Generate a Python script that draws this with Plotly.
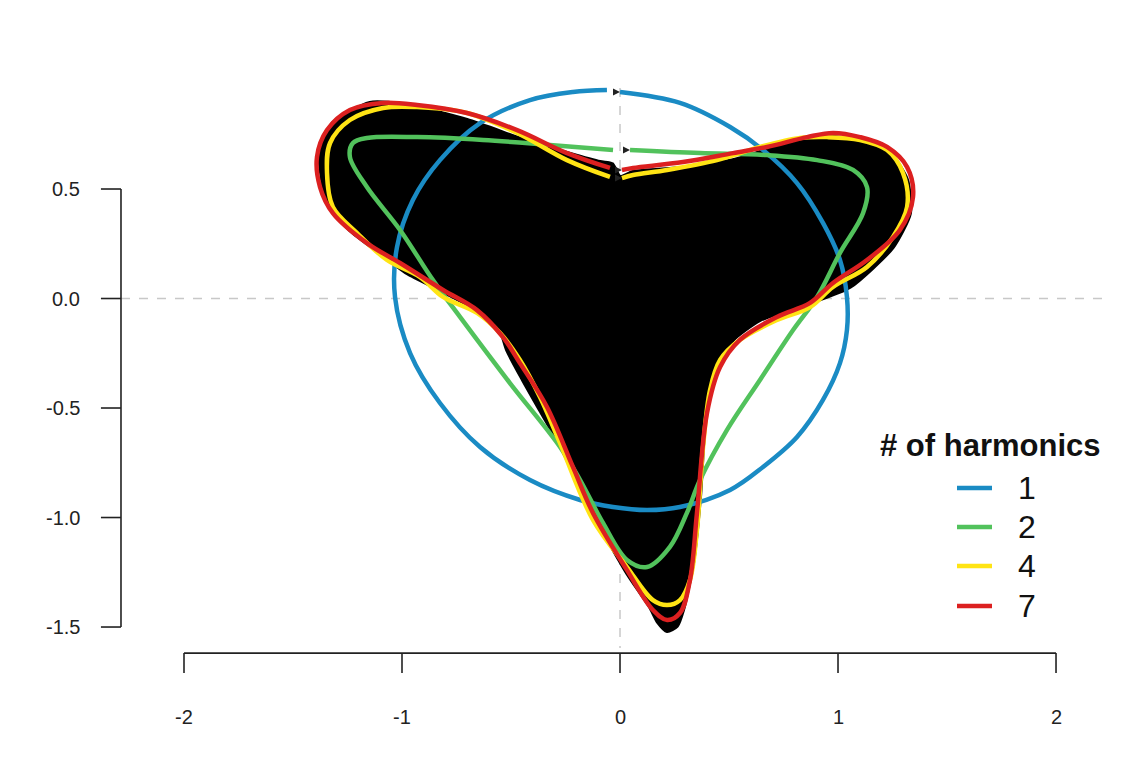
import plotly.graph_objects as go

# ---------------- data (data units) ----------------
x_ticks = [-2, -1, 0, 1, 2]
x_tick_labels = ["-2", "-1", "0", "1", "2"]
y_ticks = [0.5, 0.0, -0.5, -1.0, -1.5]
y_tick_labels = ["0.5", "0.0", "-0.5", "-1.0", "-1.5"]

# original outline (black)
outline_x = [0.0, -0.037, -0.092, -0.399, -0.702, -0.977, -1.147, -1.317, -1.376, -1.362,
             -1.330, -1.239, -1.101, -0.977, -0.826, -0.656, -0.550, -0.518, -0.445, -0.367,
             -0.275, -0.124, 0.032, 0.138, 0.174, 0.216, 0.261, 0.289, 0.335, 0.367,
             0.399, 0.445, 0.518, 0.642, 0.872, 1.055, 1.252, 1.330, 1.317, 1.252,
             1.133, 0.977, 0.858, 0.674, 0.518, 0.289, 0.060, 0.0]
outline_y = [0.555, 0.614, 0.623, 0.710, 0.815, 0.884, 0.893, 0.801, 0.646, 0.518,
             0.418, 0.313, 0.208, 0.116, 0.039, -0.052, -0.144, -0.235, -0.372, -0.509,
             -0.669, -0.979, -1.253, -1.409, -1.477, -1.518, -1.495, -1.422, -1.208, -0.906,
             -0.450, -0.313, -0.189, -0.098, -0.020, 0.053, 0.235, 0.390, 0.541, 0.646,
             0.710, 0.738, 0.724, 0.678, 0.632, 0.596, 0.578, 0.555]

# 1 harmonic
h1_x = [0.0, 0.275, 0.505, 0.656, 0.812, 0.931, 1.009, 1.041, 1.041, 1.009,
        0.931, 0.812, 0.656, 0.505, 0.275, 0.124, -0.032, -0.183, -0.413, -0.642,
        -0.826, -0.963, -1.032, -1.023, -0.950, -0.826, -0.642, -0.413, -0.216, -0.060]
h1_y = [0.943, 0.893, 0.783, 0.678, 0.527, 0.345, 0.176, 0.007, -0.144, -0.295,
        -0.463, -0.632, -0.769, -0.874, -0.952, -0.966, -0.952, -0.920, -0.829, -0.678,
        -0.477, -0.249, 0.007, 0.235, 0.450, 0.632, 0.801, 0.906, 0.943, 0.952]

# 2 harmonics
h2_x = [0.046, 0.367, 0.674, 0.904, 1.069, 1.133, 1.115, 1.009, 0.904, 0.794,
        0.642, 0.491, 0.367, 0.307, 0.229, 0.124, 0.032, -0.078, -0.183, -0.275,
        -0.505, -0.734, -0.858, -1.009, -1.161, -1.239, -1.225, -1.161, -0.931, -0.628,
        -0.321, -0.032]
h2_y = [0.678, 0.664, 0.655, 0.632, 0.587, 0.509, 0.390, 0.208, 0.007, -0.144,
        -0.372, -0.600, -0.829, -0.979, -1.134, -1.226, -1.194, -1.025, -0.829, -0.678,
        -0.386, -0.084, 0.084, 0.313, 0.509, 0.646, 0.710, 0.733, 0.737, 0.724,
        0.701, 0.678]

# 4 harmonics
h4_x = [0.009, 0.060, 0.216, 0.445, 0.642, 0.826, 0.950, 1.101, 1.225, 1.298,
        1.317, 1.252, 1.133, 0.977, 0.872, 0.720, 0.550, 0.459, 0.413, 0.381,
        0.353, 0.321, 0.275, 0.216, 0.151, 0.032, -0.124, -0.275, -0.367, -0.459,
        -0.550, -0.656, -0.812, -0.917, -1.069, -1.206, -1.317, -1.344, -1.330, -1.239,
        -1.087, -0.931, -0.702, -0.472, -0.243, -0.046]
h4_y = [0.550, 0.564, 0.587, 0.632, 0.692, 0.733, 0.737, 0.724, 0.678, 0.573,
        0.418, 0.281, 0.144, 0.053, -0.039, -0.098, -0.189, -0.281, -0.418, -0.678,
        -1.057, -1.285, -1.377, -1.400, -1.377, -1.226, -1.011, -0.660, -0.450, -0.281,
        -0.158, -0.066, 0.007, 0.098, 0.176, 0.299, 0.418, 0.573, 0.710, 0.815,
        0.870, 0.874, 0.847, 0.756, 0.632, 0.555]

# 7 harmonics
h7_x = [0.009, 0.060, 0.289, 0.518, 0.674, 0.858, 0.977, 1.101, 1.225, 1.317,
        1.344, 1.284, 1.133, 0.977, 0.872, 0.720, 0.550, 0.459, 0.399, 0.353,
        0.321, 0.275, 0.216, 0.151, 0.032, -0.124, -0.216, -0.335, -0.459, -0.537,
        -0.656, -0.812, -1.009, -1.161, -1.317, -1.376, -1.390, -1.344, -1.239, -1.087,
        -0.931, -0.702, -0.472, -0.243, -0.046]
h7_y = [0.587, 0.596, 0.623, 0.664, 0.692, 0.737, 0.756, 0.737, 0.692, 0.600,
        0.463, 0.313, 0.176, 0.071, -0.020, -0.084, -0.189, -0.313, -0.523, -0.979,
        -1.285, -1.436, -1.468, -1.422, -1.240, -0.979, -0.769, -0.495, -0.295, -0.176,
        -0.053, 0.039, 0.162, 0.253, 0.390, 0.509, 0.646, 0.769, 0.861, 0.893,
        0.884, 0.847, 0.769, 0.664, 0.596]

harmonic_names = ["1", "2", "4", "7"]
harmonic_colors = ["#1a8bc4", "#52c25c", "#ffe414", "#dc2020"]
harmonic_x = [h1_x, h2_x, h4_x, h7_x]
harmonic_y = [h1_y, h2_y, h4_y, h7_y]

# ---------------- figure ----------------
W, H = 1143, 765
X_RANGE = [-2.844, 2.399]
Y_RANGE = [-2.130, 1.363]

fig = go.Figure()

# original outline, filled black
fig.add_trace(go.Scatter(x=outline_x, y=outline_y, mode="lines", fill="toself",
                         fillcolor="black",
                         line=dict(color="black", width=4, shape="spline", smoothing=0.6),
                         hoverinfo="skip", showlegend=False))

for name, col, xs, ys in zip(harmonic_names, harmonic_colors, harmonic_x, harmonic_y):
    fig.add_trace(go.Scatter(x=xs, y=ys, mode="lines", name=name,
                             line=dict(color=col, width=4.5, shape="spline", smoothing=1.0),
                             showlegend=False))
    # start-point arrow
    fig.add_trace(go.Scatter(x=[xs[0]], y=[ys[0]], mode="markers",
                             marker=dict(symbol="arrow-right", size=7, color="#222222"),
                             showlegend=False, hoverinfo="skip"))

shapes = []
grey = "#c8c8c8"
# dashed reference lines
shapes.append(dict(type="line", xref="x", yref="y", x0=-2.289, x1=2.225, y0=0, y1=0,
                   line=dict(color=grey, width=1.5, dash="dash"), layer="below"))
shapes.append(dict(type="line", xref="x", yref="y", x0=0, x1=0, y0=0.961, y1=-1.596,
                   line=dict(color=grey, width=1.5, dash="dash"), layer="below"))

axc = "#222222"
# y axis
y_axis_x, y_tick_x = -2.289, -2.381
shapes.append(dict(type="line", x0=y_axis_x, x1=y_axis_x, y0=min(y_ticks), y1=max(y_ticks),
                   line=dict(color=axc, width=1.6)))
for v in y_ticks:
    shapes.append(dict(type="line", x0=y_tick_x, x1=y_axis_x, y0=v, y1=v,
                       line=dict(color=axc, width=1.6)))
# x axis
x_axis_y, x_tick_y = -1.619, -1.710
shapes.append(dict(type="line", x0=min(x_ticks), x1=max(x_ticks), y0=x_axis_y, y1=x_axis_y,
                   line=dict(color=axc, width=1.6)))
for v in x_ticks:
    shapes.append(dict(type="line", x0=v, x1=v, y0=x_axis_y, y1=x_tick_y,
                       line=dict(color=axc, width=1.6)))

annotations = []
tick_font = dict(family="Liberation Sans, Arial, sans-serif", size=20, color="#222222")
for v, lab in zip(y_ticks, y_tick_labels):
    annotations.append(dict(x=-2.468, y=v, xref="x", yref="y", text=lab, showarrow=False,
                            xanchor="right", yanchor="middle", font=tick_font))
for v, lab in zip(x_ticks, x_tick_labels):
    annotations.append(dict(x=v, y=-1.911, xref="x", yref="y", text=lab, showarrow=False,
                            xanchor="center", yanchor="middle",
                            font=dict(family="Liberation Sans Narrow, Liberation Sans, Arial",
                                      size=20, color="#222222")))

# legend (manual, R style)
def px(xp):
    return xp / W

def py(yp):
    return 1 - yp / H

annotations.append(dict(x=px(990), y=py(445), xref="paper", yref="paper",
                        text="<b># of harmonics</b>", showarrow=False,
                        xanchor="center", yanchor="middle",
                        font=dict(family="Liberation Sans, Arial", size=31, color="#111111")))
leg_rows = [488, 527, 566, 606]
for name, col, r in zip(harmonic_names, harmonic_colors, leg_rows):
    shapes.append(dict(type="line", xref="paper", yref="paper", x0=px(957), x1=px(992),
                       y0=py(r), y1=py(r), line=dict(color=col, width=4.5)))
    annotations.append(dict(x=px(1027), y=py(r), xref="paper", yref="paper", text=name,
                            showarrow=False, xanchor="center", yanchor="middle",
                            font=dict(family="Liberation Sans, Arial", size=32,
                                      color="#111111")))

fig.update_layout(
    width=W, height=H,
    margin=dict(l=0, r=0, t=0, b=0),
    paper_bgcolor="white", plot_bgcolor="white",
    xaxis=dict(range=X_RANGE, visible=False, fixedrange=True),
    yaxis=dict(range=Y_RANGE, visible=False, fixedrange=True),
    shapes=shapes, annotations=annotations,
    showlegend=False,
)

fig.write_html("out.html")
